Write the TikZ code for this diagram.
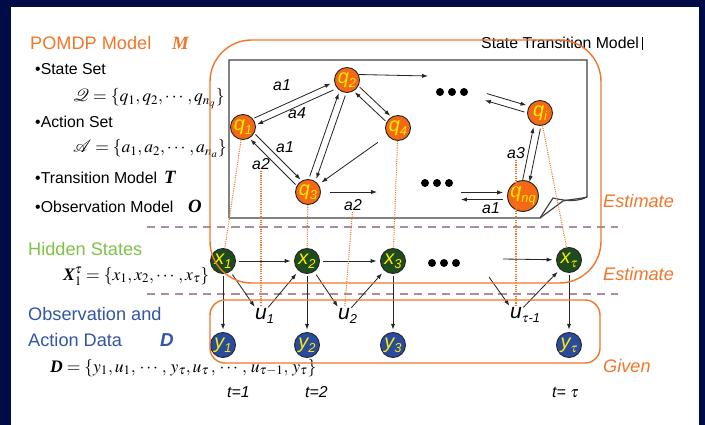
\documentclass[tikz,border=0pt]{standalone}
\usepackage{mathptmx}
\usepackage{amsmath}
\usepackage[no-math]{fontspec}
\newfontfamily\arial{Liberation Sans}
\newfontfamily\tnr{Liberation Serif}
\usetikzlibrary{arrows.meta,calc}

\definecolor{slidenavy}{RGB}{0,12,70}
\definecolor{pomorange}{RGB}{242,118,42}
\definecolor{qfill}{RGB}{243,105,20}
\definecolor{xfill}{RGB}{30,75,30}
\definecolor{yfill}{RGB}{40,75,160}
\definecolor{hidgreen}{RGB}{125,195,70}
\definecolor{obsblue}{RGB}{50,85,165}
\definecolor{sepmauve}{RGB}{170,140,165}
\definecolor{lblyellow}{RGB}{255,235,0}

\newcommand\lo[1]{\raisebox{-0.4ex}{\fontsize{11}{11}\selectfont #1}}
\newcommand\bsym[1]{\text{\tnr\bfseries\itshape #1}}
\newcommand\duo[4]{%
  \draw[trans,shorten <=#3,shorten >=#4] ($(#1)!3pt!90:(#2)$) -- ($(#2)!3pt!-90:(#1)$);
  \draw[trans,shorten <=#4,shorten >=#3] ($(#2)!3pt!90:(#1)$) -- ($(#1)!3pt!-90:(#2)$);}

\begin{document}
\begin{tikzpicture}[x=0.03cm,y=-0.03cm,
  state/.style={circle,draw=black!85,line width=0.8pt,minimum size=0.75cm,inner sep=0pt,
    text=lblyellow,font=\arial\itshape\fontsize{17}{17}\selectfont},
  qnode/.style={state,fill=qfill},
  xnode/.style={state,fill=xfill},
  ynode/.style={state,fill=yfill},
  trans/.style={-{Latex[length=5pt,width=3.6pt]},line width=0.7pt,black!85},
  est/.style={pomorange,line width=0.9pt,densely dotted},
  sep/.style={sepmauve,line width=1.6pt,dash pattern=on 7pt off 5pt},
  box/.style={pomorange,line width=1.2pt},
  alab/.style={font=\arial\itshape\fontsize{13.5}{14}\selectfont,inner sep=1pt},
  ulab/.style={font=\arial\itshape\fontsize{18}{18}\selectfont,inner sep=1pt},
  txt/.style={anchor=base west,inner sep=0pt,font=\arial\fontsize{13.5}{15}\selectfont},
  head/.style={anchor=base west,inner sep=0pt,font=\arial\fontsize{15.5}{18}\selectfont},
  side/.style={head,font=\arial\itshape\fontsize{15.5}{18}\selectfont,text=pomorange},
  formula/.style={anchor=base west,inner sep=0pt,font=\fontsize{15}{18}\selectfont},
  bi/.style={anchor=base west,inner sep=0pt,font=\tnr\bfseries\itshape\fontsize{16}{18}\selectfont},
  tlab/.style={anchor=base west,inner sep=0pt,font=\arial\itshape\fontsize{13.5}{15}\selectfont}]
  \useasboundingbox (0,0) rectangle (705,425);
  \fill[slidenavy] (0,0) rectangle (705,425);
  \fill[white] (11,7) rectangle (699,425);

  \node[head,text=pomorange] (title) at (30,50) {POMDP Model};
  \node[bi,text=pomorange] (mname) at (172,50) {M};
  \node[txt] (sset) at (35,75) {•State Set};
  \node[formula] (qset) at (73,102) {$\mathcal{Q}=\{q_1,q_2,\cdots,q_{n_q}\}$};
  \node[txt] (aset) at (35,128) {•Action Set};
  \node[formula] (aform) at (73,153) {$\mathcal{A}=\{a_1,a_2,\cdots,a_{n_a}\}$};
  \node[txt] (tmod) at (35,183) {•Transition Model};
  \node[bi] (tname) at (164,183) {T};
  \node[txt] (omod) at (35,212) {•Observation Model};
  \node[bi] (oname) at (188,212) {O};
  \node[head,text=hidgreen] (hid) at (28,255) {Hidden States};
  \node[formula] (xform) at (63,280) {$\bsym{X}_1^{\tau}=\{x_1,x_2,\cdots,x_{\tau}\}$};
  \node[head,text=obsblue] (obs) at (28,320) {Observation and};
  \node[head,text=obsblue] (adata) at (28,346) {Action Data};
  \node[bi,text=obsblue,font=\arial\bfseries\itshape\fontsize{16}{18}\selectfont] (dname) at (160,346) {D};
  \node[formula] (dform) at (50,372) {$\bsym{D}=\{y_1,u_1,\,\cdots,\,y_{\tau},u_{\tau}\,,\,\cdots,\,u_{\tau-1},\,y_{\tau}\}$};

  \draw[line width=1pt,black!75] (229,218) -- (229,60) -- (587,60) -- (587,197)
    .. controls (575,203) and (562,200) .. (553,198) -- (540,218) -- (229,218);
  \draw[line width=1pt,black!75] (540,218) -- (563,201) .. controls (572,199) and (580,199) .. (587,197);
  \node[txt] (stm) at (481,49) {State Transition Model\,\rule[-0.5pt]{1.2pt}{11pt}};

  \node[qnode] (q1) at (243,127) {q\lo{1}};
  \node[qnode] (q2) at (347,80) {q\lo{2}};
  \node[qnode] (q4) at (398,128) {q\lo{4}};
  \node[qnode] (q3) at (308,192) {q\lo{3}};
  \node[qnode] (qi) at (540,113) {q\lo{i}};
  \node[qnode] (qnq) at (523,196) {q\lo{nq}};
  \coordinate (dotsT) at (452,92);
  \coordinate (dotsB) at (437,183);
  \coordinate (dotsH) at (444,263);
  \foreach \d in {-12,0,12} {
    \fill ([xshift=\d*0.03cm]dotsT) circle (4);
    \fill ([xshift=\d*0.03cm]dotsB) circle (4);
    \fill ([xshift=\d*0.03cm]dotsH) circle (4);
  }
  \coordinate (q2out) at (428,76);
  \coordinate (q3out) at (377,192);
  \coordinate (qiin) at (486,97);
  \coordinate (qnqin) at (461,196);

  \duo{q1}{q2}{12pt}{14pt}
  \duo{q2}{q4}{12pt}{12pt}
  \duo{q1}{q3}{12pt}{12pt}
  \duo{q2}{q3}{13pt}{13pt}
  \duo{qiin}{qi}{0pt}{13pt}
  \duo{qi}{qnq}{13pt}{13pt}
  \duo{qnqin}{qnq}{0pt}{17pt}
  \draw[trans] (q2.25) -- (q2out);
  \draw[trans,shorten <=10pt,shorten >=3pt] (q4) -- (q3);
  \draw[trans,shorten <=8pt] (q3) -- (q3out);

  \node[alab] (a1t) at (282,85) {a1};
  \node[alab] (a4t) at (297,113) {a4};
  \node[alab] (a1m) at (285,147) {a1};
  \node[alab] (a2l) at (261,164) {a2};
  \node[alab] (a2m) at (353,205) {a2};
  \node[alab] (a3r) at (516,153) {a3};
  \node[alab] (a1r) at (491,208) {a1};

  \draw[sep] (147,227) -- (618,227);
  \draw[sep] (147,294) -- (618,294);

  \node[xnode] (x1) at (223,261) {x\lo{1}};
  \node[xnode] (x2) at (307,261) {x\lo{2}};
  \node[xnode] (x3) at (393,261) {x\lo{3}};
  \node[xnode] (xt) at (569,260) {x\lo{$\tau$}};
  \node[ynode] (y1) at (223,345) {y\lo{1}};
  \node[ynode] (y2) at (307,345) {y\lo{2}};
  \node[ynode] (y3) at (393,345) {y\lo{3}};
  \node[ynode] (yt) at (569,345) {y\lo{$\tau$}};
  \node[ulab] (u1) at (261,316) {u\rlap{\lo{1}}};
  \node[ulab] (u2) at (344,316) {u\rlap{\lo{2}}};
  \node[ulab] (ut) at (516,315) {u\rlap{\lo{$\tau$-1}}};
  \coordinate (dotsHR) at (503,259);
  \coordinate (dotsHL) at (489,277);

  \draw[trans,shorten <=3pt,shorten >=3pt] (x1) -- (x2);
  \draw[trans,shorten <=3pt,shorten >=3pt] (x2) -- (x3);
  \draw[trans,shorten >=3pt] (dotsHR) -- (xt);
  \draw[trans,shorten <=3pt] (x1) -- (u1);
  \draw[trans,shorten >=3pt] (u1) -- (x2);
  \draw[trans,shorten <=3pt] (x2) -- (u2);
  \draw[trans,shorten >=3pt] (u2) -- (x3);
  \draw[trans] (dotsHL) -- (ut);
  \draw[trans,shorten >=3pt] (ut) -- (xt);
  \foreach \i in {1,2,3,t} \draw[trans,shorten <=2pt,shorten >=2pt] (x\i) -- (y\i);

  \draw[est] (q1) -- (x1);
  \draw[est] (a2l) -- (u1);
  \draw[est] (q3) -- (x2);
  \draw[est] (a2m) -- (u2);
  \draw[est] (q4) -- (x3);
  \draw[est] (a3r) -- (ut);
  \draw[est] (qi) -- (xt);

  \draw[box,rounded corners=1.25cm] (210,40) rectangle (601,283);
  \draw[box,rounded corners=0.45cm] (210,300) rectangle (600,363);

  \node[side] (est1) at (603,207) {Estimate};
  \node[side] (est2) at (603,280) {Estimate};
  \node[side] (given) at (603,372) {Given};
  \node[tlab] (t1) at (227,397) {t=1};
  \node[tlab] (t2) at (305,397) {t=2};
  \node[tlab] (tt) at (552,397) {t= $\tau$};
\end{tikzpicture}
\end{document}
